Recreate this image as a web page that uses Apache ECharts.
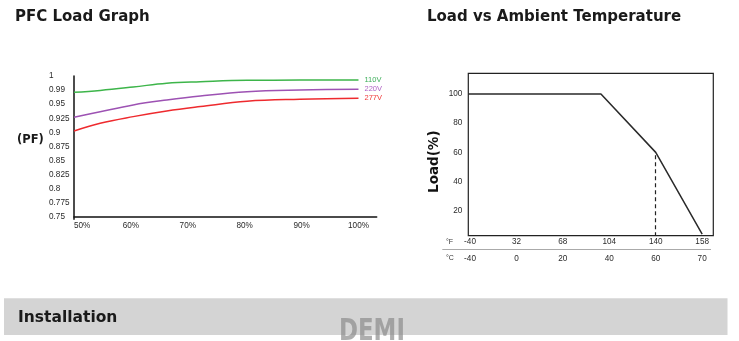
<!DOCTYPE html>
<html><head><meta charset="utf-8">
<script src="https://cdn.jsdelivr.net/npm/echarts@6/dist/echarts.min.js"></script>
<style>html,body{margin:0;padding:0;background:#fff}#c{width:739px;height:341px}</style>
</head><body><div id="c"></div>
<script>
// ---- PFC Load Graph ----
// y tick labels are drawn evenly spaced in the source (non-linear PF scale);
// series values are positions on that tick scale (0 = '0.75' ... 10 = '1').
const pfTickLabels = ['0.75','0.775','0.8','0.825','0.85','0.875','0.9','0.925','0.95','0.99','1'];
const loadTickLabels = [50, 60, 70, 80, 90, 100];
const loadPct = [50, 54.6, 60.4, 66.3, 72.2, 80.4, 89.7, 100];
const pf110 = [8.85, 8.98, 9.22, 9.49, 9.60, 9.70, 9.71, 9.72];
const pf220 = [7.07, 7.47, 7.95, 8.30, 8.59, 8.89, 9.01, 9.06];
const pf277 = [6.10, 6.65, 7.12, 7.52, 7.83, 8.21, 8.35, 8.42];
const seriesNames = ['110V', '220V', '277V'];

// ---- Load vs Ambient Temperature ----
// x positions are tick indices (tick labels evenly spaced in the source)
const tempF = ['-40', '32', '68', '104', '140', '158'];
const tempC = ['-40', '0', '20', '40', '60', '70'];
const loadTicks = [20, 40, 60, 80, 100];
const deratePos = [-0.037, 2.82, 4, 5];
const derateLoad = [100, 100, 60, 4];

const zip = (xs, ys) => xs.map((x, i) => [x, ys[i]]);
const lbl = { fontFamily: 'Liberation Sans', fontSize: 8.2, color: '#2a2a2a' };
const R_YMIN = 2.9;

const chart = echarts.init(document.getElementById('c'), null, { renderer: 'canvas' });
chart.setOption({
  backgroundColor: '#fff',
  animation: false,
  title: [
    { text: 'PFC Load Graph', left: 15, top: 10, padding: 0,
      textStyle: { fontFamily: 'DejaVu Sans', fontWeight: 'bold', fontSize: 15, color: '#1a1a1a' } },
    { text: 'Load vs Ambient Temperature', left: 427, top: 10, padding: 0,
      textStyle: { fontFamily: 'DejaVu Sans', fontWeight: 'bold', fontSize: 15, color: '#1a1a1a' } }
  ],
  grid: [
    { left: 74, right: 362.3, top: 76, bottom: 121.7 },
    { left: 468.3, right: 25.7, top: 73.3, bottom: 105.3, show: true,
      borderColor: '#222', borderWidth: 1.2, backgroundColor: 'transparent' }
  ],
  xAxis: [
    { gridIndex: 0, type: 'value', min: 50, max: 103.2,
      axisLine: { show: true, lineStyle: { color: '#111', width: 1.5 } },
      axisTick: { show: false }, splitLine: { show: false },
      axisLabel: Object.assign({ customValues: loadTickLabels, margin: 2,
        alignMinLabel: 'left', formatter: v => v + '%' }, lbl) },
    { gridIndex: 1, type: 'value', min: deratePos[0], max: 5.24, position: 'bottom',
      axisLine: { show: false }, axisTick: { show: false }, splitLine: { show: false },
      axisLabel: Object.assign({ customValues: tempF.map((_, i) => i), margin: 2,
        formatter: v => tempF[Math.round(v)] }, lbl) },
    { gridIndex: 1, type: 'value', min: deratePos[0], max: 5.24, position: 'bottom', offset: 16.6,
      axisLine: { show: false }, axisTick: { show: false }, splitLine: { show: false },
      axisLabel: Object.assign({ customValues: tempC.map((_, i) => i), margin: 2,
        formatter: v => tempC[Math.round(v)] }, lbl) }
  ],
  yAxis: [
    { gridIndex: 0, type: 'value', min: -0.16, max: 10,
      axisLine: { show: true, lineStyle: { color: '#111', width: 1.5 } },
      axisTick: { show: false }, splitLine: { show: false },
      axisLabel: Object.assign({ customValues: pfTickLabels.map((_, i) => i), margin: 25,
        align: 'left', formatter: v => pfTickLabels[Math.round(v)] }, lbl) },
    { gridIndex: 1, type: 'value', min: R_YMIN, max: 114.2,
      axisLine: { show: false }, axisTick: { show: false }, splitLine: { show: false },
      axisLabel: Object.assign({ customValues: loadTicks, margin: 6 }, lbl) }
  ],
  series: [
    { name: seriesNames[0], type: 'line', xAxisIndex: 0, yAxisIndex: 0, data: zip(loadPct, pf110),
      smooth: 0.4, showSymbol: false, lineStyle: { color: '#3db54a', width: 1.5 },
      endLabel: { show: true, formatter: '{a}', distance: 6, color: '#3dae5a', fontFamily: 'Liberation Sans', fontSize: 7.5 } },
    { name: seriesNames[1], type: 'line', xAxisIndex: 0, yAxisIndex: 0, data: zip(loadPct, pf220),
      smooth: 0.4, showSymbol: false, lineStyle: { color: '#9d52b3', width: 1.5 },
      endLabel: { show: true, formatter: '{a}', distance: 6, color: '#b062c4', fontFamily: 'Liberation Sans', fontSize: 7.5 } },
    { name: seriesNames[2], type: 'line', xAxisIndex: 0, yAxisIndex: 0, data: zip(loadPct, pf277),
      smooth: 0.4, showSymbol: false, lineStyle: { color: '#ee2a2e', width: 1.5 },
      endLabel: { show: true, formatter: '{a}', distance: 6, color: '#f03a3a', fontFamily: 'Liberation Sans', fontSize: 7.5 } },
    { name: 'derating', type: 'line', xAxisIndex: 1, yAxisIndex: 1, data: zip(deratePos, derateLoad),
      showSymbol: false, lineStyle: { color: '#2a2a2a', width: 1.5 },
      markLine: { silent: true, symbol: 'none', label: { show: false },
        lineStyle: { color: '#222', width: 1.2, type: [4, 3] },
        data: [[{ coord: [deratePos[2], derateLoad[2] - 2] }, { coord: [deratePos[2], R_YMIN] }]] } }
  ],
  graphic: [
    { type: 'text', x: 17, y: 140, style: { text: '(PF)', fontFamily: 'DejaVu Sans', fontWeight: 'bold',
      fontSize: 11.5, fill: '#1a1a1a', textVerticalAlign: 'middle' } },
    { type: 'text', x: 434, y: 161.7, rotation: Math.PI / 2, style: { text: 'Load(%)', fontFamily: 'DejaVu Sans',
      fontWeight: 'bold', fontSize: 13.5, fill: '#111', textAlign: 'center', textVerticalAlign: 'middle' } },
    { type: 'text', x: 446, y: 241.7, style: { text: '°F', fontFamily: 'Liberation Sans', fontSize: 7,
      fill: '#333', textVerticalAlign: 'middle' } },
    { type: 'text', x: 446, y: 258.3, style: { text: '°C', fontFamily: 'Liberation Sans', fontSize: 7,
      fill: '#333', textVerticalAlign: 'middle' } },
    { type: 'line', shape: { x1: 442.3, y1: 249.5, x2: 711, y2: 249.5 }, style: { stroke: '#aaa', lineWidth: 1 } },
    { type: 'rect', shape: { x: 4, y: 298.3, width: 723.5, height: 36.7 }, style: { fill: '#d4d4d4' }, z: 0 },
    { type: 'text', x: 18, y: 318, style: { text: 'Installation', fontFamily: 'DejaVu Sans', fontWeight: 'bold',
      fontSize: 15.5, fill: '#1a1a1a', textVerticalAlign: 'middle' }, z: 1 },
    { type: 'text', x: 339, y: 316, scaleX: 0.82, style: { text: 'DEMI', fontFamily: 'DejaVu Sans Condensed, sans-serif',
      fontWeight: 'bold', fontSize: 31, fill: 'rgba(140,140,140,0.7)', textVerticalAlign: 'top' }, z: 2 }
  ]
});
</script>
</body></html>
